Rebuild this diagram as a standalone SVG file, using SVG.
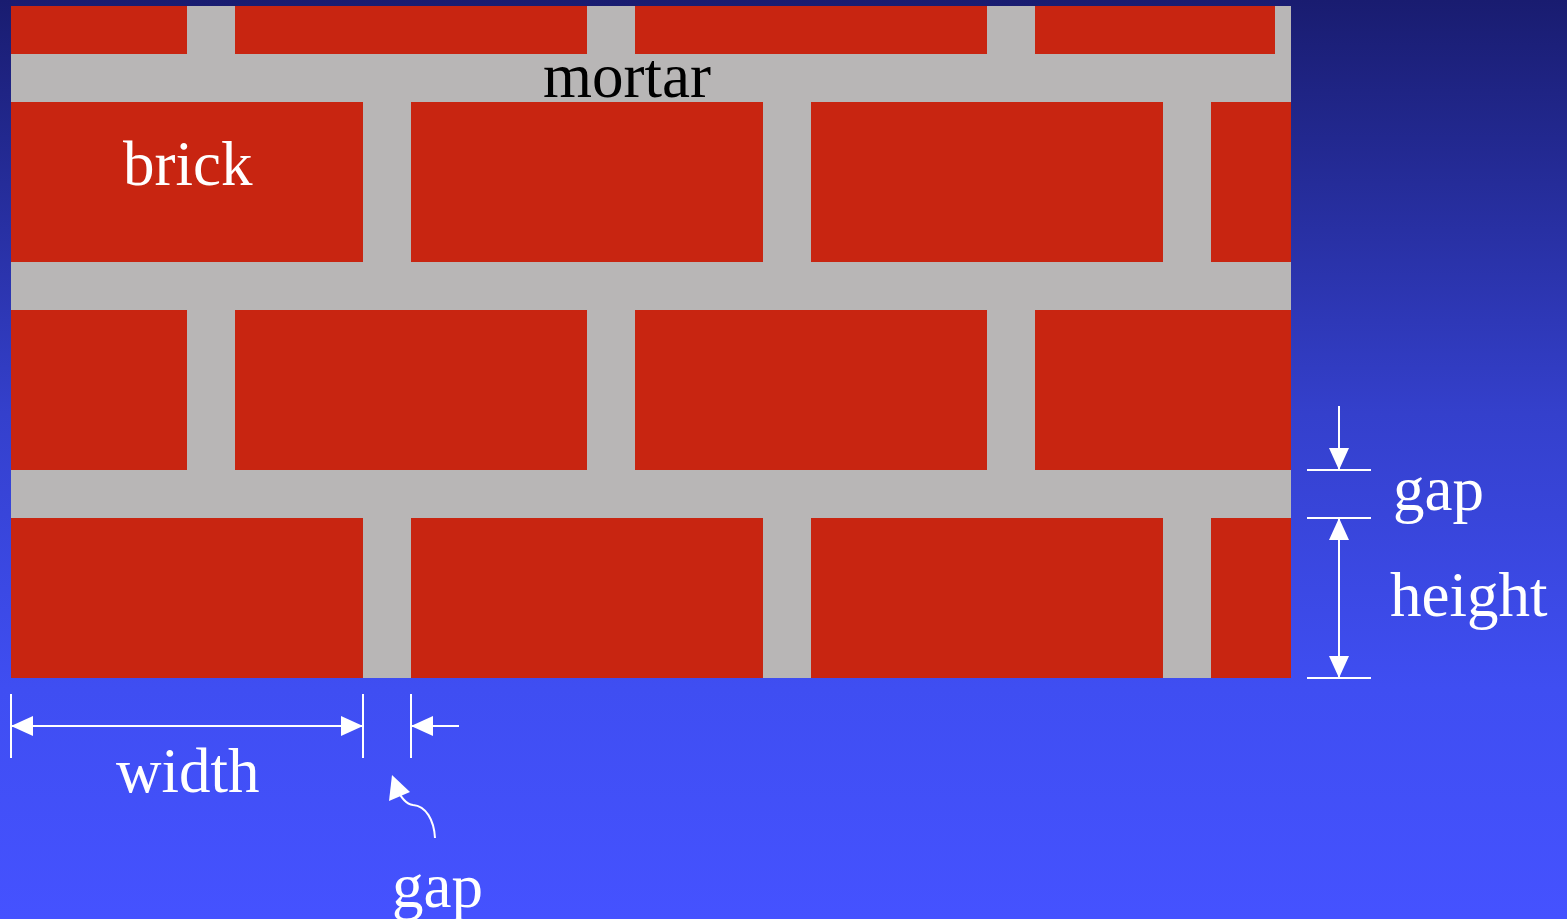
<svg xmlns="http://www.w3.org/2000/svg" width="1567" height="919" viewBox="0 0 1567 919">
<defs>
<linearGradient id="bg" x1="0" y1="0" x2="0" y2="1">
<stop offset="0" stop-color="#191c70"/>
<stop offset="0.45" stop-color="#3440cc"/>
<stop offset="0.75" stop-color="#3f4ef2"/>
<stop offset="1" stop-color="#4552ff"/>
</linearGradient>
<marker id="ah" viewBox="0 0 22 20" refX="22" refY="10" markerWidth="22" markerHeight="20" markerUnits="userSpaceOnUse" orient="auto-start-reverse">
<path d="M0,0 L22,10 L0,20 Z" fill="#fff"/>
</marker>
</defs>
<style>
.brick{fill:#c82511}
.lbl{font-family:"Liberation Serif","Times New Roman",serif;font-size:63px;fill:#fff}
.dim{stroke:#fff;stroke-width:2;fill:none}
</style>
<rect width="1567" height="919" fill="url(#bg)"/>
<g id="wall">
<rect x="11" y="6" width="1280" height="672" fill="#b8b6b6"/>
<rect class="brick" x="11" y="6" width="176" height="48"/>
<rect class="brick" x="235" y="6" width="352" height="48"/>
<rect class="brick" x="635" y="6" width="352" height="48"/>
<rect class="brick" x="1035" y="6" width="240" height="48"/>
<rect class="brick" x="11" y="102" width="352" height="160"/>
<rect class="brick" x="411" y="102" width="352" height="160"/>
<rect class="brick" x="811" y="102" width="352" height="160"/>
<rect class="brick" x="1211" y="102" width="80" height="160"/>
<rect class="brick" x="11" y="310" width="176" height="160"/>
<rect class="brick" x="235" y="310" width="352" height="160"/>
<rect class="brick" x="635" y="310" width="352" height="160"/>
<rect class="brick" x="1035" y="310" width="256" height="160"/>
<rect class="brick" x="11" y="518" width="352" height="160"/>
<rect class="brick" x="411" y="518" width="352" height="160"/>
<rect class="brick" x="811" y="518" width="352" height="160"/>
<rect class="brick" x="1211" y="518" width="80" height="160"/>
</g>
<g id="label-mortar"><text class="lbl" x="543" y="97" style="fill:#000">mortar</text></g>
<g id="label-brick"><text class="lbl" x="123" y="185">brick</text></g>
<g id="connectors">
<line class="dim" x1="1307" y1="470" x2="1371" y2="470"/>
<line class="dim" x1="1307" y1="518" x2="1371" y2="518"/>
<line class="dim" x1="1307" y1="678" x2="1371" y2="678"/>
<line class="dim" x1="1339" y1="406" x2="1339" y2="470" marker-end="url(#ah)"/>
<line class="dim" x1="1339" y1="518" x2="1339" y2="678" marker-start="url(#ah)" marker-end="url(#ah)"/>
<line class="dim" x1="11" y1="694" x2="11" y2="758"/>
<line class="dim" x1="363" y1="694" x2="363" y2="758"/>
<line class="dim" x1="411" y1="694" x2="411" y2="758"/>
<line class="dim" x1="11" y1="726" x2="363" y2="726" marker-start="url(#ah)" marker-end="url(#ah)"/>
<line class="dim" x1="459" y1="726" x2="411" y2="726" marker-end="url(#ah)"/>
<path class="dim" d="M435,838 C434,820 426,806 413,805 C405,804 400,796 396,787"/>
<path d="M392,775 L389,801 L410,792 Z" fill="#fff"/>
</g>
<g id="label-gap-right"><text class="lbl" x="1393" y="510">gap</text></g>
<g id="label-height"><text class="lbl" x="1390" y="616">height</text></g>
<g id="label-width"><text class="lbl" x="116" y="792">width</text></g>
<g id="label-gap-bottom"><text class="lbl" x="392" y="907">gap</text></g>
</svg>
